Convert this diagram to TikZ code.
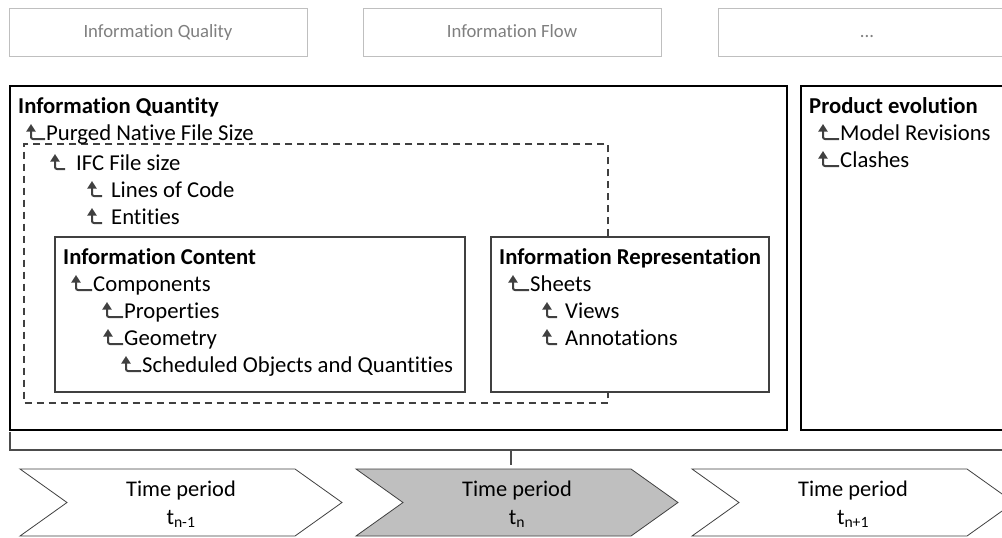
\documentclass[tikz,border=0pt]{standalone}
\usepackage{fontspec}
\setmainfont[Ligatures={NoCommon,NoRequired,NoContextual}]{Carlito}
\usetikzlibrary{arrows.meta}
\definecolor{dk}{HTML}{404040}
\definecolor{lg}{HTML}{BFBFBF}
\definecolor{tg}{HTML}{7F7F7F}
\definecolor{cf}{HTML}{BFBFBF}
\tikzset{
 topbox/.style={draw=lg, line width=1pt, minimum width=298pt, minimum height=48pt, text=tg, text height=12pt, text depth=1pt, font=\fontsize{18.7}{22}\selectfont},
 bigbox/.style={draw=black, line width=2.2pt},
 subbox/.style={draw=dk, line width=1.3pt},
 dashbox/.style={draw=dk, line width=1.3pt, dash pattern=on 7pt off 5pt},
 itm/.style={inner sep=0pt, anchor=base west, font=\fontsize{22.7}{27}\selectfont},
 hd/.style={itm, font=\fontsize{22.7}{27}\selectfont\bfseries},
 glyph/.style={draw=dk, line width=2pt, rounded corners=2pt, -{Triangle[width=9pt,length=7.5pt]}},
 chev/.style={draw=dk, line width=0.8pt},
 tp/.style={inner sep=0pt, font=\fontsize{22.4}{27}\selectfont},
 brk/.style={draw=black!70, line width=1.4pt},
}
\newcommand\ent[6]{%
  \node[itm] (#1) at (#3,#4) {#5};
  \draw[glyph] ([xshift={-(#3-#2-#6)*1pt},yshift=1pt]#1.base west) -- ([xshift={-(#3-#2)*1pt},yshift=1pt]#1.base west) -- ([xshift={-(#3-#2)*1pt},yshift=16pt]#1.base west);
}
\begin{document}
\begin{tikzpicture}[x=1pt,y=-1pt]
\clip (0,0) rectangle (1002,538);
% top boxes
\node[topbox] (q1) at (158,32) {Information Quality};
\node[topbox] (q2) at (512,32) {Information Flow};
\node[topbox] (q3) at (867,32) {...};
% main boxes
\node[bigbox, minimum width=777pt, minimum height=344pt] (IQ) at (398.5,258) {};
\node[bigbox, minimum width=214pt, minimum height=344pt] (PE) at (908,258) {};
\node[subbox, minimum width=410pt, minimum height=155pt] (IC) at (260,314.5) {};
\node[subbox, minimum width=278pt, minimum height=155pt] (IR) at (630,314.5) {};
% dashed region
\coordinate (dTR) at (608,144);
\coordinate (dTL) at (24,144);
\coordinate (dBL) at (24,403);
\coordinate (dBR) at (608,403);
\draw[dashbox] (IR.north -| dTR) -- (dTR) -- (dTL) -- (dBL) -- (dBR) -- (IR.south -| dBR);
% headings
\node[hd] (hIQ) at (18,113) {Information Quantity};
\node[hd] (hIC) at (63,264) {Information Content};
\node[hd] (hIR) at (499,264) {Information Representation};
\node[hd] (hPE) at (809,113) {Product evolution};
% items
\ent{purged}{31}{46}{140}{Purged Native File Size}{14}
\ent{ifc}{55}{76}{170}{IFC File size}{10}
\ent{loc}{92}{111}{197}{Lines of Code}{10}
\ent{ent}{92}{111}{224}{Entities}{10}
\ent{comp}{76}{93}{291}{Components}{16}
\ent{prop}{107}{124}{318}{Properties}{16}
\ent{geom}{108}{124}{345}{Geometry}{15}
\ent{sched}{126}{142}{372}{Scheduled Objects and Quantities}{15}
\ent{sheets}{513}{530}{291}{Sheets}{16}
\ent{views}{547}{565}{318}{Views}{10}
\ent{annot}{547}{565}{345}{Annotations}{10}
\ent{model}{823}{840}{140}{Model Revisions}{16}
\ent{clash}{823}{840}{167}{Clashes}{16}
% bracket
\coordinate (bA) at (10,432);
\coordinate (bB) at (10,450);
\coordinate (bC) at (1002,450);
\coordinate (bT) at (511,450);
\coordinate (bU) at (511,465);
\draw[brk] (bA) -- (bB) -- (bC);
\draw[brk] (bT) -- (bU);
% chevrons
\foreach \x/\sub/\fc [count=\i] in {20/{n-1}/white, 356/{n}/cf, 692/{n+1}/white}{
  \draw[chev, fill=\fc] (\x,469) -- ++(275,0) -- ++(47,33.5) -- ++(-47,33.5) -- ++(-275,0) -- ++(47,-33.5) -- cycle;
  \node[tp] (tp\i) at (\x+161,491) {Time period};
  \node[tp] (ts\i) at (\x+161,519) {t\textsubscript{\sub}};
}
\end{tikzpicture}
\end{document}
